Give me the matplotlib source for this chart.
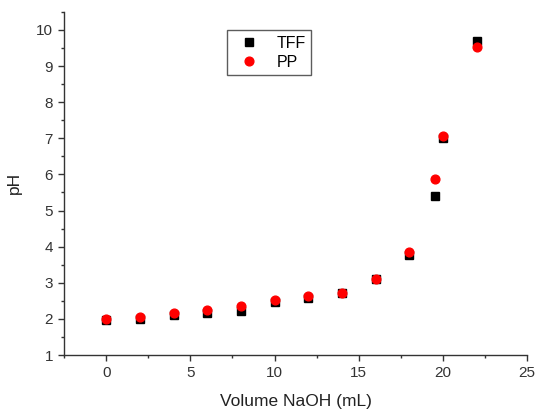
import matplotlib
matplotlib.use("Agg")
import matplotlib.pyplot as plt
from matplotlib.ticker import MultipleLocator

plt.rcParams['font.family'] = ['Liberation Sans', 'DejaVu Sans']

volume = [0, 2, 4, 6, 8, 10, 12, 14, 16, 18, 19.5, 20, 22]
ph_tff = [1.96, 2.0, 2.1, 2.17, 2.21, 2.46, 2.58, 2.72, 3.1, 3.76, 5.4, 7.02, 9.68]
ph_pp = [2.0, 2.06, 2.17, 2.24, 2.35, 2.51, 2.62, 2.73, 3.1, 3.85, 5.88, 7.07, 9.53]

fig = plt.figure(figsize=(5.38, 4.09), dpi=100)
ax = fig.add_axes([0.119, 0.132, 0.861, 0.839])

ax.plot(volume, ph_tff, linestyle='none', marker='s', markersize=5.8, color='black', label='TFF')
ax.plot(volume, ph_pp, linestyle='none', marker='o', markersize=6.3, color='#ff0000', label='PP')

ax.set_xlim(-2.5, 25)
ax.set_ylim(1, 10.5)
ax.xaxis.set_major_locator(MultipleLocator(5))
ax.xaxis.set_minor_locator(MultipleLocator(2.5))
ax.yaxis.set_major_locator(MultipleLocator(1))
ax.yaxis.set_minor_locator(MultipleLocator(0.5))

for s in ['top', 'right']:
    ax.spines[s].set_visible(False)
for s in ['left', 'bottom']:
    ax.spines[s].set_color('#333333')
    ax.spines[s].set_linewidth(1.0)

ax.tick_params(which='major', direction='out', length=4.5, width=1.0, color='#333333',
               labelsize=11, labelcolor='#333333')
ax.tick_params(which='minor', direction='out', length=2.5, width=1.0, color='#333333')

ax.set_xlabel('Volume NaOH (mL)', fontsize=12.5, color='#222222', labelpad=10)
ax.set_ylabel('pH', fontsize=12.5, color='#222222', labelpad=10)

leg = ax.legend(loc='upper left', bbox_to_anchor=(0.352, 0.947), frameon=True, fancybox=False,
                edgecolor='#333333', fontsize=11.5, handletextpad=0.75, borderpad=0.35,
                labelspacing=0.25, handlelength=2.0, borderaxespad=0)
leg.get_frame().set_linewidth(1.0)

fig.savefig('out.png', dpi=100)
